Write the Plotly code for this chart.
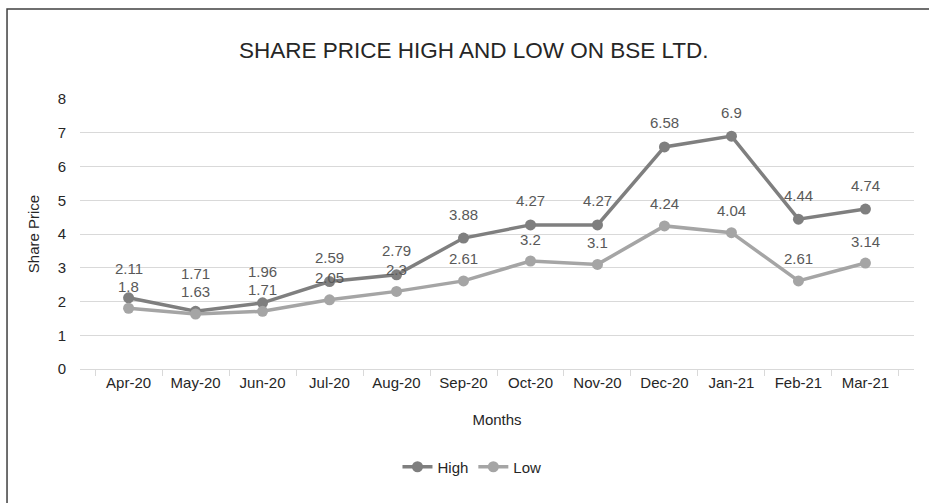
import plotly.graph_objects as go

months = ["Apr-20", "May-20", "Jun-20", "Jul-20", "Aug-20", "Sep-20",
          "Oct-20", "Nov-20", "Dec-20", "Jan-21", "Feb-21", "Mar-21"]
high = [2.11, 1.71, 1.96, 2.59, 2.79, 3.88, 4.27, 4.27, 6.58, 6.9, 4.44, 4.74]
low = [1.8, 1.63, 1.71, 2.05, 2.3, 2.61, 3.2, 3.1, 4.24, 4.04, 2.61, 3.14]
y_ticks = [0, 1, 2, 3, 4, 5, 6, 7, 8]

FONT = "Liberation Sans, Arial, sans-serif"
HIGH_COLOR = "#7f7f7f"
LOW_COLOR = "#a5a5a5"
PX_PER_UNIT = 270 / 8.0  # plot height / y range

fig = go.Figure()
fig.add_trace(go.Scatter(
    x=months, y=high, name="High", mode="lines+markers",
    line=dict(color=HIGH_COLOR, width=3.5),
    marker=dict(color=HIGH_COLOR, size=11),
))
fig.add_trace(go.Scatter(
    x=months, y=low, name="Low", mode="lines+markers",
    line=dict(color=LOW_COLOR, width=3.5),
    marker=dict(color=LOW_COLOR, size=11),
))

annotations = []
base_shift = 22
for m, h, l in zip(months, high, low):
    # nudge the High label up when it would collide with the Low label
    h_shift = max(base_shift + 2, (l - h) * PX_PER_UNIT + base_shift + 18)
    annotations.append(dict(x=m, y=h, xref="x", yref="y", text=str(h), showarrow=False,
                            borderpad=0,
                            yshift=h_shift, font=dict(size=15, color="#595959", family=FONT)))
    annotations.append(dict(x=m, y=l, xref="x", yref="y", text=str(l), showarrow=False,
                            borderpad=0,
                            yshift=base_shift, font=dict(size=15, color="#595959", family=FONT)))

fig.update_layout(
    width=929, height=503,
    margin=dict(l=80, r=15, t=99, b=134),
    paper_bgcolor="white", plot_bgcolor="white",
    font=dict(family=FONT, size=15, color="#262626"),
    title=dict(text="SHARE PRICE HIGH AND LOW ON BSE LTD.", x=0.51, xanchor="center",
               y=0.9, yanchor="middle",
               font=dict(size=22.5, color="#262626", family=FONT)),
    showlegend=True,
    legend=dict(orientation="h", x=0.47, xanchor="center", y=-0.363, yanchor="middle",
                font=dict(size=15, color="#262626", family=FONT), traceorder="normal"),
    xaxis=dict(
        title=dict(text="Months", standoff=24, font=dict(size=15)),
        showgrid=False, showline=True, linecolor="#d9d9d9", linewidth=1,
        ticks="outside", tickson="boundaries", ticklen=6, tickcolor="#d9d9d9",
        tickfont=dict(size=15), fixedrange=True,
    ),
    yaxis=dict(
        title=dict(text="Share Price", standoff=14, font=dict(size=15)),
        range=[0, 8], tickvals=y_ticks, showgrid=True, gridcolor="#d9d9d9",
        gridwidth=1, zeroline=False, showline=False, ticks="",
        ticklabelstandoff=13,
        tickfont=dict(size=15), fixedrange=True,
    ),
    annotations=annotations,
    shapes=[dict(type="rect", xref="paper", yref="paper",
                 x0=-0.0875, x1=1.05, y0=-0.6, y1=1.333,
                 line=dict(color="#404040", width=1.5), fillcolor="rgba(0,0,0,0)")],
)

fig.write_html("out.html", config={"displayModeBar": False},
               post_script="document.body.style.margin='0';")
